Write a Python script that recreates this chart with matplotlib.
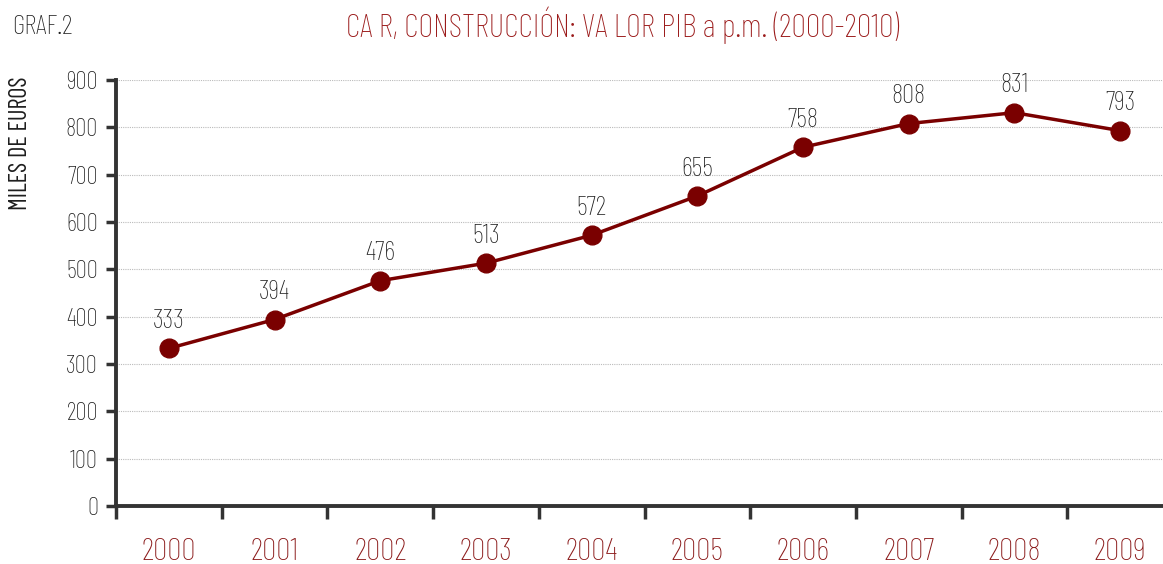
import matplotlib
matplotlib.use('Agg')
import matplotlib.pyplot as plt
import numpy as np

# ── Data ──────────────────────────────────────────────────────────────────────
years  = ['2000', '2001', '2002', '2003', '2004', '2005', '2006', '2007', '2008', '2009']
values = [333, 394, 476, 513, 572, 655, 758, 808, 831, 793]
yticks = [0, 100, 200, 300, 400, 500, 600, 700, 800, 900]

TITLE  = "CA R, CONSTRUCCIÓN: VA LOR PIB a p.m. (2000-2010)"
LINE   = '#7a0000'
RED_TX = '#8b1a1a'
DARK   = '#333333'
TXT    = '#1e1e1e'

plt.rcParams['font.family'] = ['Barlow Condensed', 'DejaVu Sans']
plt.rcParams['font.weight'] = 'light'

fig = plt.figure(figsize=(11.63, 5.64), dpi=100)
ax = fig.add_axes([116 / 1163, 58 / 564, 1057 / 1163, 426 / 564])

x = np.arange(len(years))
ax.plot(x, values, color=LINE, linewidth=2.5, marker='o', markersize=13.5,
        markerfacecolor=LINE, markeredgecolor=LINE, zorder=3)
for xi, v in zip(x, values):
    ax.annotate(str(v), (xi, v), xytext=(0, 11), textcoords='offset points',
                ha='center', va='bottom', fontsize=19.5, color=TXT)

ax.set_xlim(-0.5, len(years) - 0.5)
ax.set_ylim(0, 900)
ax.set_yticks(yticks)
ax.set_yticklabels([str(t) for t in yticks], fontsize=18, color=TXT)
ax.grid(axis='y', color='#bbbbbb', linewidth=0.8, linestyle=(0, (1, 1)))
ax.set_axisbelow(True)

# category labels between boundary ticks
ax.set_xticks(x - 0.5, minor=False)
ax.set_xticklabels([''] * len(years))
ax.set_xticks(x, minor=True)
ax.set_xticklabels(years, minor=True, fontsize=23, color=RED_TX)
ax.tick_params(axis='x', which='major', direction='out', length=9, width=2.5, color=DARK)
ax.tick_params(axis='x', which='minor', length=0, pad=23)
ax.tick_params(axis='y', direction='out', length=7, width=2.5, color=DARK, pad=6)

for s in ['top', 'right']:
    ax.spines[s].set_visible(False)
for s in ['left', 'bottom']:
    ax.spines[s].set_color(DARK)
    ax.spines[s].set_linewidth(2.8)

ax.set_ylabel('MILES DE EUROS', fontsize=17.5, color=TXT)
ax.yaxis.set_label_coords(-0.079, 0.852)
ax.yaxis.label.set_verticalalignment('bottom')

fig.text(12 / 1163, 1 - 27 / 564, 'GRAF.2', fontsize=20, color=TXT, va='center', ha='left')
fig.text(622 / 1163, 1 - 25 / 564, TITLE, fontsize=23.5, color='#9b1b1b', va='center', ha='center')

fig.savefig('out.png', dpi=100)
